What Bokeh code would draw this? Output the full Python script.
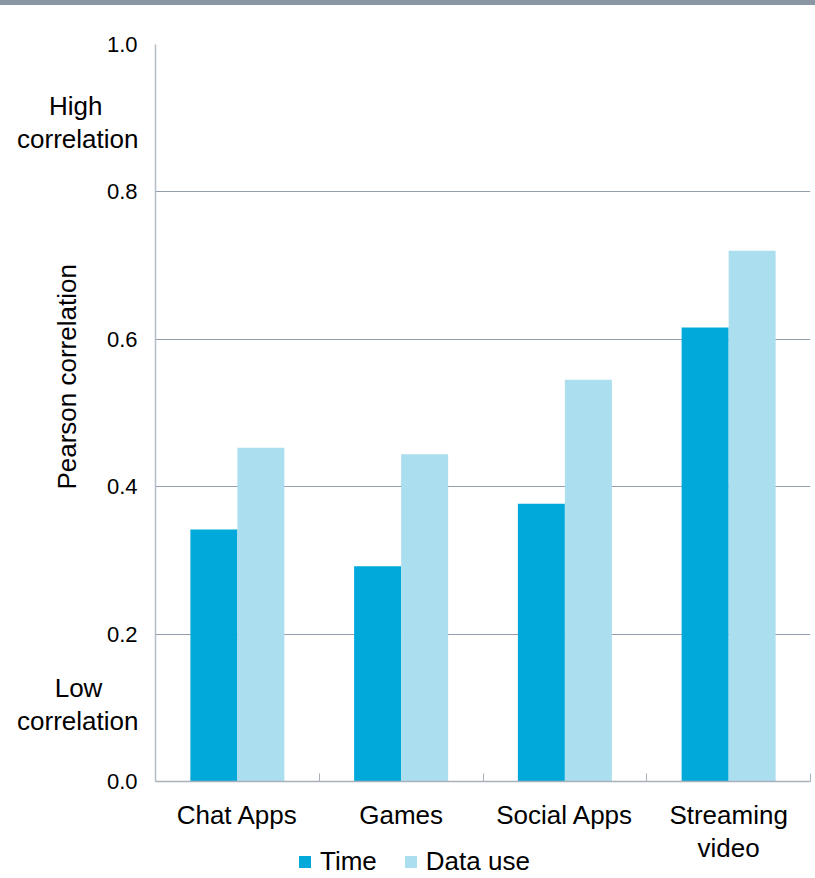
from bokeh.plotting import figure
from bokeh.models import FixedTicker, Legend, LegendItem, Div, LinearAxis
from bokeh.layouts import column
from bokeh.embed import file_html
from bokeh.resources import INLINE

# Pearson correlation per app category
categories = ["Chat Apps", "Games", "Social Apps", "Streaming\nvideo"]
time_corr = [0.342, 0.292, 0.377, 0.616]
data_use_corr = [0.453, 0.444, 0.545, 0.720]
y_ticks = [0.0, 0.2, 0.4, 0.6, 0.8, 1.0]
series_names = ["Time", "Data use"]
# verbal guides placed on the correlation scale
scale_notes = {0.894: "High", 0.104: "Low"}

FONT = "Liberation Sans"
TIME_COLOR = "#00a9d9"
DATA_COLOR = "#abdeee"
NBSP = "\u00a0"

n = len(categories)
centers = [i + 0.5 for i in range(n)]
bar_w = 0.287
time_x = [c - bar_w / 2 for c in centers]
data_x = [c + bar_w / 2 for c in centers]

p = figure(width=815, height=873, x_range=(0, n), y_range=(0, 1.0),
           output_backend="svg", toolbar_location=None,
           min_border_left=155, min_border_right=5,
           min_border_top=39, min_border_bottom=97)
p.frame_width = 655
p.frame_height = 737
p.outline_line_color = None
p.background_fill_color = "white"
p.border_fill_color = "white"

p.vbar(x=time_x, top=time_corr, width=bar_w, fill_color=TIME_COLOR, line_color=None)
p.vbar(x=data_x, top=data_use_corr, width=bar_w, fill_color=DATA_COLOR, line_color=None)

# grid
p.xgrid.visible = False
p.ygrid.ticker = FixedTicker(ticks=y_ticks[1:])
p.ygrid.grid_line_color = "#929eac"
p.ygrid.grid_line_width = 1

# y axis: numeric ticks
ya = p.yaxis[0]
ya.ticker = FixedTicker(ticks=y_ticks)
ya.major_label_overrides = {t: f"{t:.1f}" for t in y_ticks}
ya.major_tick_line_color = None
ya.major_tick_out = 0
ya.major_tick_in = 0
ya.minor_tick_line_color = None
ya.axis_line_color = "#b4bcc6"
ya.axis_line_width = 1.5
ya.major_label_text_font = FONT
ya.major_label_text_font_size = "22px"
ya.major_label_text_color = "black"
ya.major_label_standoff = 18

# outer left axis: verbal guides and the axis title (title sits a little high)
notes_axis = LinearAxis(
    ticker=FixedTicker(ticks=list(scale_notes)),
    major_label_overrides={t: w + NBSP * 5 + "\ncorrelation"
                           for t, w in scale_notes.items()},
    axis_line_color=None, major_tick_line_color=None,
    minor_tick_line_color=None, major_tick_out=0, major_tick_in=0,
    major_label_text_font=FONT, major_label_text_font_size="26px",
    major_label_text_color="black", major_label_text_line_height=1.1,
    major_label_standoff=-35,
    axis_label=NBSP * 10 + "Pearson correlation", axis_label_text_font=FONT,
    axis_label_text_font_size="26px", axis_label_text_font_style="normal",
    axis_label_text_color="black", axis_label_standoff=-68)
p.add_layout(notes_axis, "left")

# x axis: labels at group centres, small inward ticks at group boundaries
xa = p.xaxis[0]
xa.ticker = FixedTicker(ticks=centers, minor_ticks=list(range(n + 1)))
xa.major_label_overrides = {c: lab for c, lab in zip(centers, categories)}
xa.major_tick_line_color = None
xa.minor_tick_line_color = "#a8b0ba"
xa.minor_tick_in = 8
xa.minor_tick_out = 0
xa.axis_line_color = "#a8b0ba"
xa.axis_line_width = 1.5
xa.major_label_text_font = FONT
xa.major_label_text_font_size = "26px"
xa.major_label_text_color = "black"
xa.major_label_text_line_height = 1.1
xa.major_label_standoff = 12

# legend strip, transparent, pulled up over the bottom of the chart;
# its series renderers sit well outside the strip's visible ranges
lg = figure(width=815, height=30, x_range=(-30, -29), y_range=(10, 11),
            output_backend="svg", toolbar_location=None, min_border=0,
            x_axis_location=None, y_axis_location=None,
            margin=(-30, 0, 0, 0))
lg.grid.visible = False
lg.outline_line_color = None
lg.background_fill_color = None
lg.border_fill_color = None
sw_time = lg.vbar(x=time_x, top=time_corr, width=bar_w,
                  fill_color=TIME_COLOR, line_color=None)
sw_data = lg.vbar(x=data_x, top=data_use_corr, width=bar_w,
                  fill_color=DATA_COLOR, line_color=None)

legend = Legend(items=[LegendItem(label=series_names[0], renderers=[sw_time]),
                       LegendItem(label=series_names[1], renderers=[sw_data])],
                orientation="horizontal", location=(142, 1),
                label_text_font=FONT, label_text_font_size="26px",
                label_text_color="black", glyph_width=15, glyph_height=15,
                label_height=30, label_standoff=8, spacing=26, padding=0,
                margin=0, border_line_color=None, background_fill_alpha=0)
lg.add_layout(legend)

band = Div(width=815, height=5, margin=(0, 0, 0, 0),
           styles={"background-color": "#8b96a4"})

layout = column(band, p, lg, spacing=0)

open("out.html", "w").write(file_html(layout, INLINE))
